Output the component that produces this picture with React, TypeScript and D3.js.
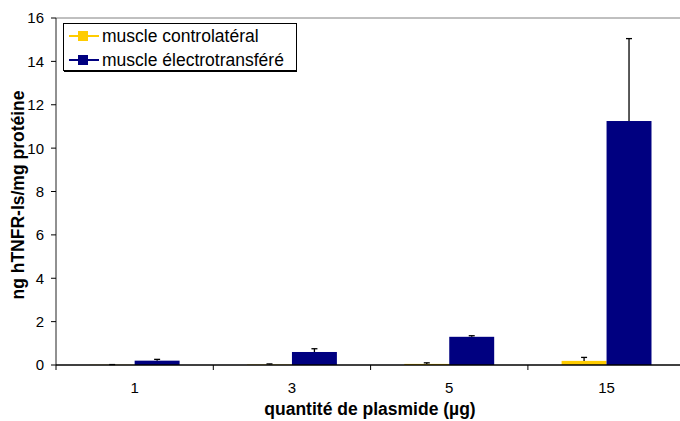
import React from "react";
import * as d3 from "d3";

const categories = ["1", "3", "5", "15"];
const seriesNames = ["muscle controlatéral", "muscle électrotransféré"];
const controlValues = [0.01, 0.02, 0.05, 0.19];
const controlErrors = [0.01, 0.03, 0.05, 0.16];
const electroValues = [0.2, 0.6, 1.3, 11.25];
const electroErrors = [0.06, 0.15, 0.05, 3.8];
const yTicks = [0, 2, 4, 6, 8, 10, 12, 14, 16];
const colors = ["#FFCC00", "#000080"];

const W = 680;
const H = 421;
const left = 56;
const top = 18;
const bottom = 365;
const catW = 157.3;

export default function App() {
  const x = d3.scaleBand<string>().domain(categories).range([left, left + catW * categories.length]).paddingInner(0).paddingOuter(0);
  const y = d3.scaleLinear().domain([0, 16]).range([bottom, top]);
  const inner = d3.scaleBand<number>().domain([0, 1]).range([0, catW]).paddingInner(0).paddingOuter(0.75);
  const series = [
    { vals: controlValues, errs: controlErrors },
    { vals: electroValues, errs: electroErrors },
  ];
  const font = "'Liberation Sans', Arial, sans-serif";
  return (
    <svg width={W} height={H} style={{ position: "absolute", left: 0, top: 0, background: "#fff" }} fontFamily={font}>
      {/* top border */}
      <line x1={left} x2={W} y1={y(16)} y2={y(16)} stroke="#808080" strokeWidth={1} />
      {/* bars */}
      {series.map((s, si) =>
        categories.map((c, ci) => {
          const bx = (x(c) as number) + (inner(si) as number);
          const bw = inner.bandwidth();
          const v = s.vals[ci];
          return (
            <rect key={`b${si}${ci}`} x={bx} y={y(v)} width={bw} height={y(0) - y(v)} fill={colors[si]} />
          );
        })
      )}
      {/* error bars */}
      {series.map((s, si) =>
        categories.map((c, ci) => {
          const cx = (x(c) as number) + (inner(si) as number) + inner.bandwidth() / 2;
          const v = s.vals[ci];
          const e = s.errs[ci];
          return (
            <g key={`e${si}${ci}`} stroke="#000" strokeWidth={1.3}>
              <line x1={cx} x2={cx} y1={y(v)} y2={y(v + e)} />
              <line x1={cx - 3} x2={cx + 3} y1={y(v + e)} y2={y(v + e)} />
            </g>
          );
        })
      )}
      {/* y axis */}
      <line x1={left} x2={left} y1={top} y2={bottom} stroke="#222" strokeWidth={1} />
      {yTicks.map((t) => (
        <g key={`yt${t}`}>
          <line x1={left - 5} x2={left} y1={y(t)} y2={y(t)} stroke="#000" />
          <text x={44} y={y(t)} dy="0.36em" textAnchor="end" fontSize={15}>
            {t}
          </text>
        </g>
      ))}
      {/* x axis */}
      <line x1={left} x2={W} y1={bottom} y2={bottom} stroke="#000" strokeWidth={1.5} />
      {categories.map((c, i) => (
        <line key={`xt${i}`} x1={left + catW * (i + 1)} x2={left + catW * (i + 1)} y1={bottom} y2={bottom + 5} stroke="#000" />
      ))}
      <line x1={left} x2={left} y1={bottom} y2={bottom + 5} stroke="#000" />
      {categories.map((c) => (
        <text key={`xl${c}`} x={(x(c) as number) + catW / 2} y={393} textAnchor="middle" fontSize={15}>
          {c}
        </text>
      ))}
      <text x={370} y={415} textAnchor="middle" fontSize={17.5} fontWeight="bold">
        quantité de plasmide (µg)
      </text>
      <text transform={`translate(24, 195) rotate(-90)`} textAnchor="middle" fontSize={17.5} fontWeight="bold">
        ng hTNFR-Is/mg protéine
      </text>
      {/* legend */}
      <rect x={64} y={25} width={233} height={47} fill="#000" />
      <rect x={63.5} y={23.5} width={233} height={47} fill="#fff" stroke="#000" strokeWidth={1} />
      {seriesNames.map((n, i) => {
        const ly = 36 + i * 24;
        return (
          <g key={`lg${i}`}>
            <line x1={69} x2={99} y1={ly} y2={ly} stroke={colors[i]} strokeWidth={2} />
            <rect x={78} y={ly - 5} width={10} height={10} fill={colors[i]} />
            <text x={102} y={ly} dy="0.35em" fontSize={17.5}>
              {n}
            </text>
          </g>
        );
      })}
    </svg>
  );
}
